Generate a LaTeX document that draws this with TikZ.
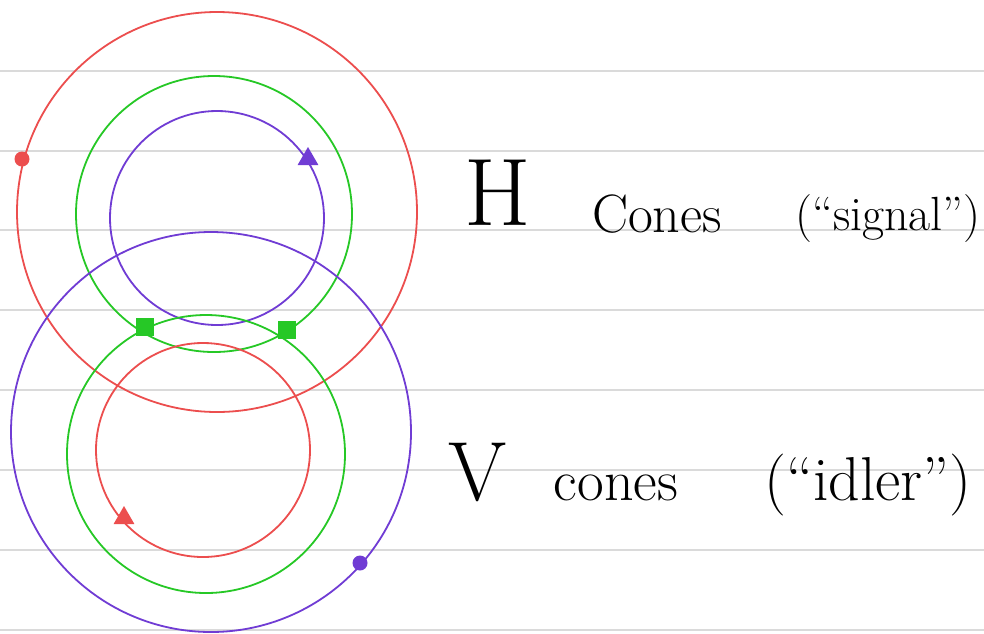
\documentclass[tikz,border=0pt]{standalone}
\usetikzlibrary{shapes.geometric}
\definecolor{redc}{RGB}{236,78,78}
\definecolor{greenc}{RGB}{38,200,38}
\definecolor{purplec}{RGB}{112,60,212}
\definecolor{rulec}{RGB}{218,218,218}

\begin{document}
\begin{tikzpicture}[
    x=1pt, y=-1pt,
    ring/.style={line width=1.8pt},
    dotmark/.style={circle, fill, inner sep=0pt, minimum size=15pt},
    trimark/.style={regular polygon, regular polygon sides=3, fill, inner sep=0pt, minimum size=24pt},
    sqmark/.style={rectangle, fill, inner sep=0pt, minimum size=18pt},
    txt/.style={anchor=base, inner sep=0pt, font=\fontsize{#1}{#1}\selectfont},
    txt/.default=50
]
    \useasboundingbox (0,0) rectangle (984,633);
    \fill[white] (0,0) rectangle (984,633);

    % ruled paper
    \foreach \y in {71,151,230,310,390,470,550,630}
        \draw[rulec, line width=2.4pt] (0,\y) -- (984,\y);

    % H cones
    \draw[ring, redc] (217,212) circle (200);
    \draw[ring, greenc] (214,214) circle (138);
    \draw[ring, purplec] (217,218) circle (107);

    % V cones
    \draw[ring, purplec] (211,432) circle (200);
    \draw[ring, greenc] (206,454) circle (139);
    \draw[ring, redc] (203,450) circle (107);

    % markers
    \node[dotmark, redc] (hdot) at (22,159) {};
    \node[trimark, purplec] (htri) at (308,159) {};
    \node[sqmark, greenc] (lsq) at (145,327) {};
    \node[sqmark, greenc] (rsq) at (287,330) {};
    \node[trimark, redc] (vtri) at (124,518) {};
    \node[dotmark, purplec] (vdot) at (360,563) {};

    % labels
    \node[txt=96] (hname) at (498,225) {H};
    \node[txt=54] (hcones) at (657,232) {Cones};
    \node[txt=48] (hsignal) at (888,230) {(``signal'')};
    \node[txt=84] (vname) at (478,500) {V};
    \node[txt=58] (vcones) at (616,500) {cones};
    \node[txt=62] (vidler) at (868,500) {(``idler'')};
\end{tikzpicture}
\end{document}
